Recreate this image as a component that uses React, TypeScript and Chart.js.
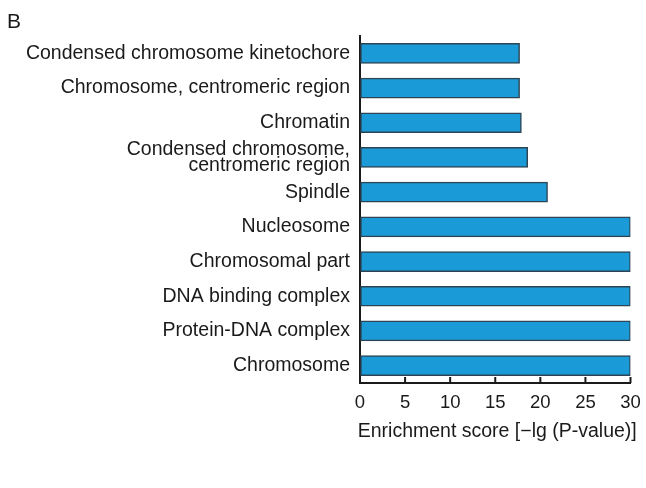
import React, { useEffect, useRef } from "react";
import { Chart, registerables } from "chart.js";

Chart.register(...registerables);

const categories: (string | string[])[] = [
  "Condensed chromosome kinetochore",
  "Chromosome, centromeric region",
  "Chromatin",
  ["Condensed chromosome,", "centromeric region"],
  "Spindle",
  "Nucleosome",
  "Chromosomal part",
  "DNA binding complex",
  "Protein-DNA complex",
  "Chromosome",
];

const scores: number[] = [17.7, 17.7, 17.9, 18.6, 20.8, 30, 30, 30, 30, 30];

const xTicks: number[] = [0, 5, 10, 15, 20, 25, 30];

const panelLabel = "B";
const xTitle = "Enrichment score [\u2212lg (P-value)]";

const FONT = "'Liberation Sans', Arial, Helvetica, sans-serif";

const decorPlugin = {
  id: "decor",
  afterDraw(chart: any) {
    const ctx = chart.ctx;
    const xs = chart.scales.x;
    const area = chart.chartArea;
    ctx.save();
    ctx.strokeStyle = "#1a1a1a";
    ctx.lineWidth = 2;
    for (const v of xTicks) {
      const px = xs.getPixelForValue(v);
      ctx.beginPath();
      ctx.moveTo(px, area.bottom);
      ctx.lineTo(px, area.bottom - 6);
      ctx.stroke();
    }
    ctx.fillStyle = "#1a1a1a";
    ctx.font = `19.5px ${FONT}`;
    ctx.textAlign = "center";
    ctx.textBaseline = "alphabetic";
    ctx.fillText(xTitle, (area.left + area.right) / 2 + 2, 437);
    ctx.font = `21px ${FONT}`;
    ctx.textAlign = "left";
    ctx.fillText(panelLabel, 7, 27.5);
    ctx.restore();
  },
};

export default function App() {
  const canvasRef = useRef<HTMLCanvasElement | null>(null);

  useEffect(() => {
    if (!canvasRef.current) return;
    const chart = new Chart(canvasRef.current, {
      type: "bar",
      data: {
        labels: categories,
        datasets: [
          {
            data: scores,
            backgroundColor: "#1a9bd7",
            borderColor: "#2c4454",
            borderWidth: 1.5,
            borderSkipped: false,
            barThickness: 20,
          },
        ],
      },
      options: {
        indexAxis: "y",
        responsive: true,
        maintainAspectRatio: false,
        animation: false,
        layout: { padding: { top: 36, right: 15.5, left: 0, bottom: 0 } },
        plugins: {
          legend: { display: false },
          tooltip: { enabled: false },
          title: { display: false },
        },
        scales: {
          x: {
            type: "linear",
            min: 0,
            max: 30,
            afterFit: (s: any) => {
              s.height = 105;
              s.paddingLeft = 0;
              s.paddingRight = 0;
            },
            ticks: {
              stepSize: 5,
              padding: 9,
              color: "#1a1a1a",
              font: { family: FONT, size: 18.5 },
            },
            grid: { drawOnChartArea: false, drawTicks: false },
            border: { display: true, color: "#1a1a1a", width: 2 },
          },
          y: {
            type: "category",
            afterFit: (s: any) => {
              s.width = 360;
            },
            ticks: {
              autoSkip: false,
              padding: 10,
              color: "#1a1a1a",
              font: { family: FONT, size: 19.5, lineHeight: 0.82 },
            },
            grid: { drawOnChartArea: false, drawTicks: false },
            border: { display: true, color: "#1a1a1a", width: 2 },
          },
        },
      },
      plugins: [decorPlugin],
    });
    return () => chart.destroy();
  }, []);

  return (
    <div
      style={{
        position: "absolute",
        left: 0,
        top: 0,
        width: 646,
        height: 488,
        background: "#ffffff",
      }}
    >
      <canvas ref={canvasRef} />
    </div>
  );
}
